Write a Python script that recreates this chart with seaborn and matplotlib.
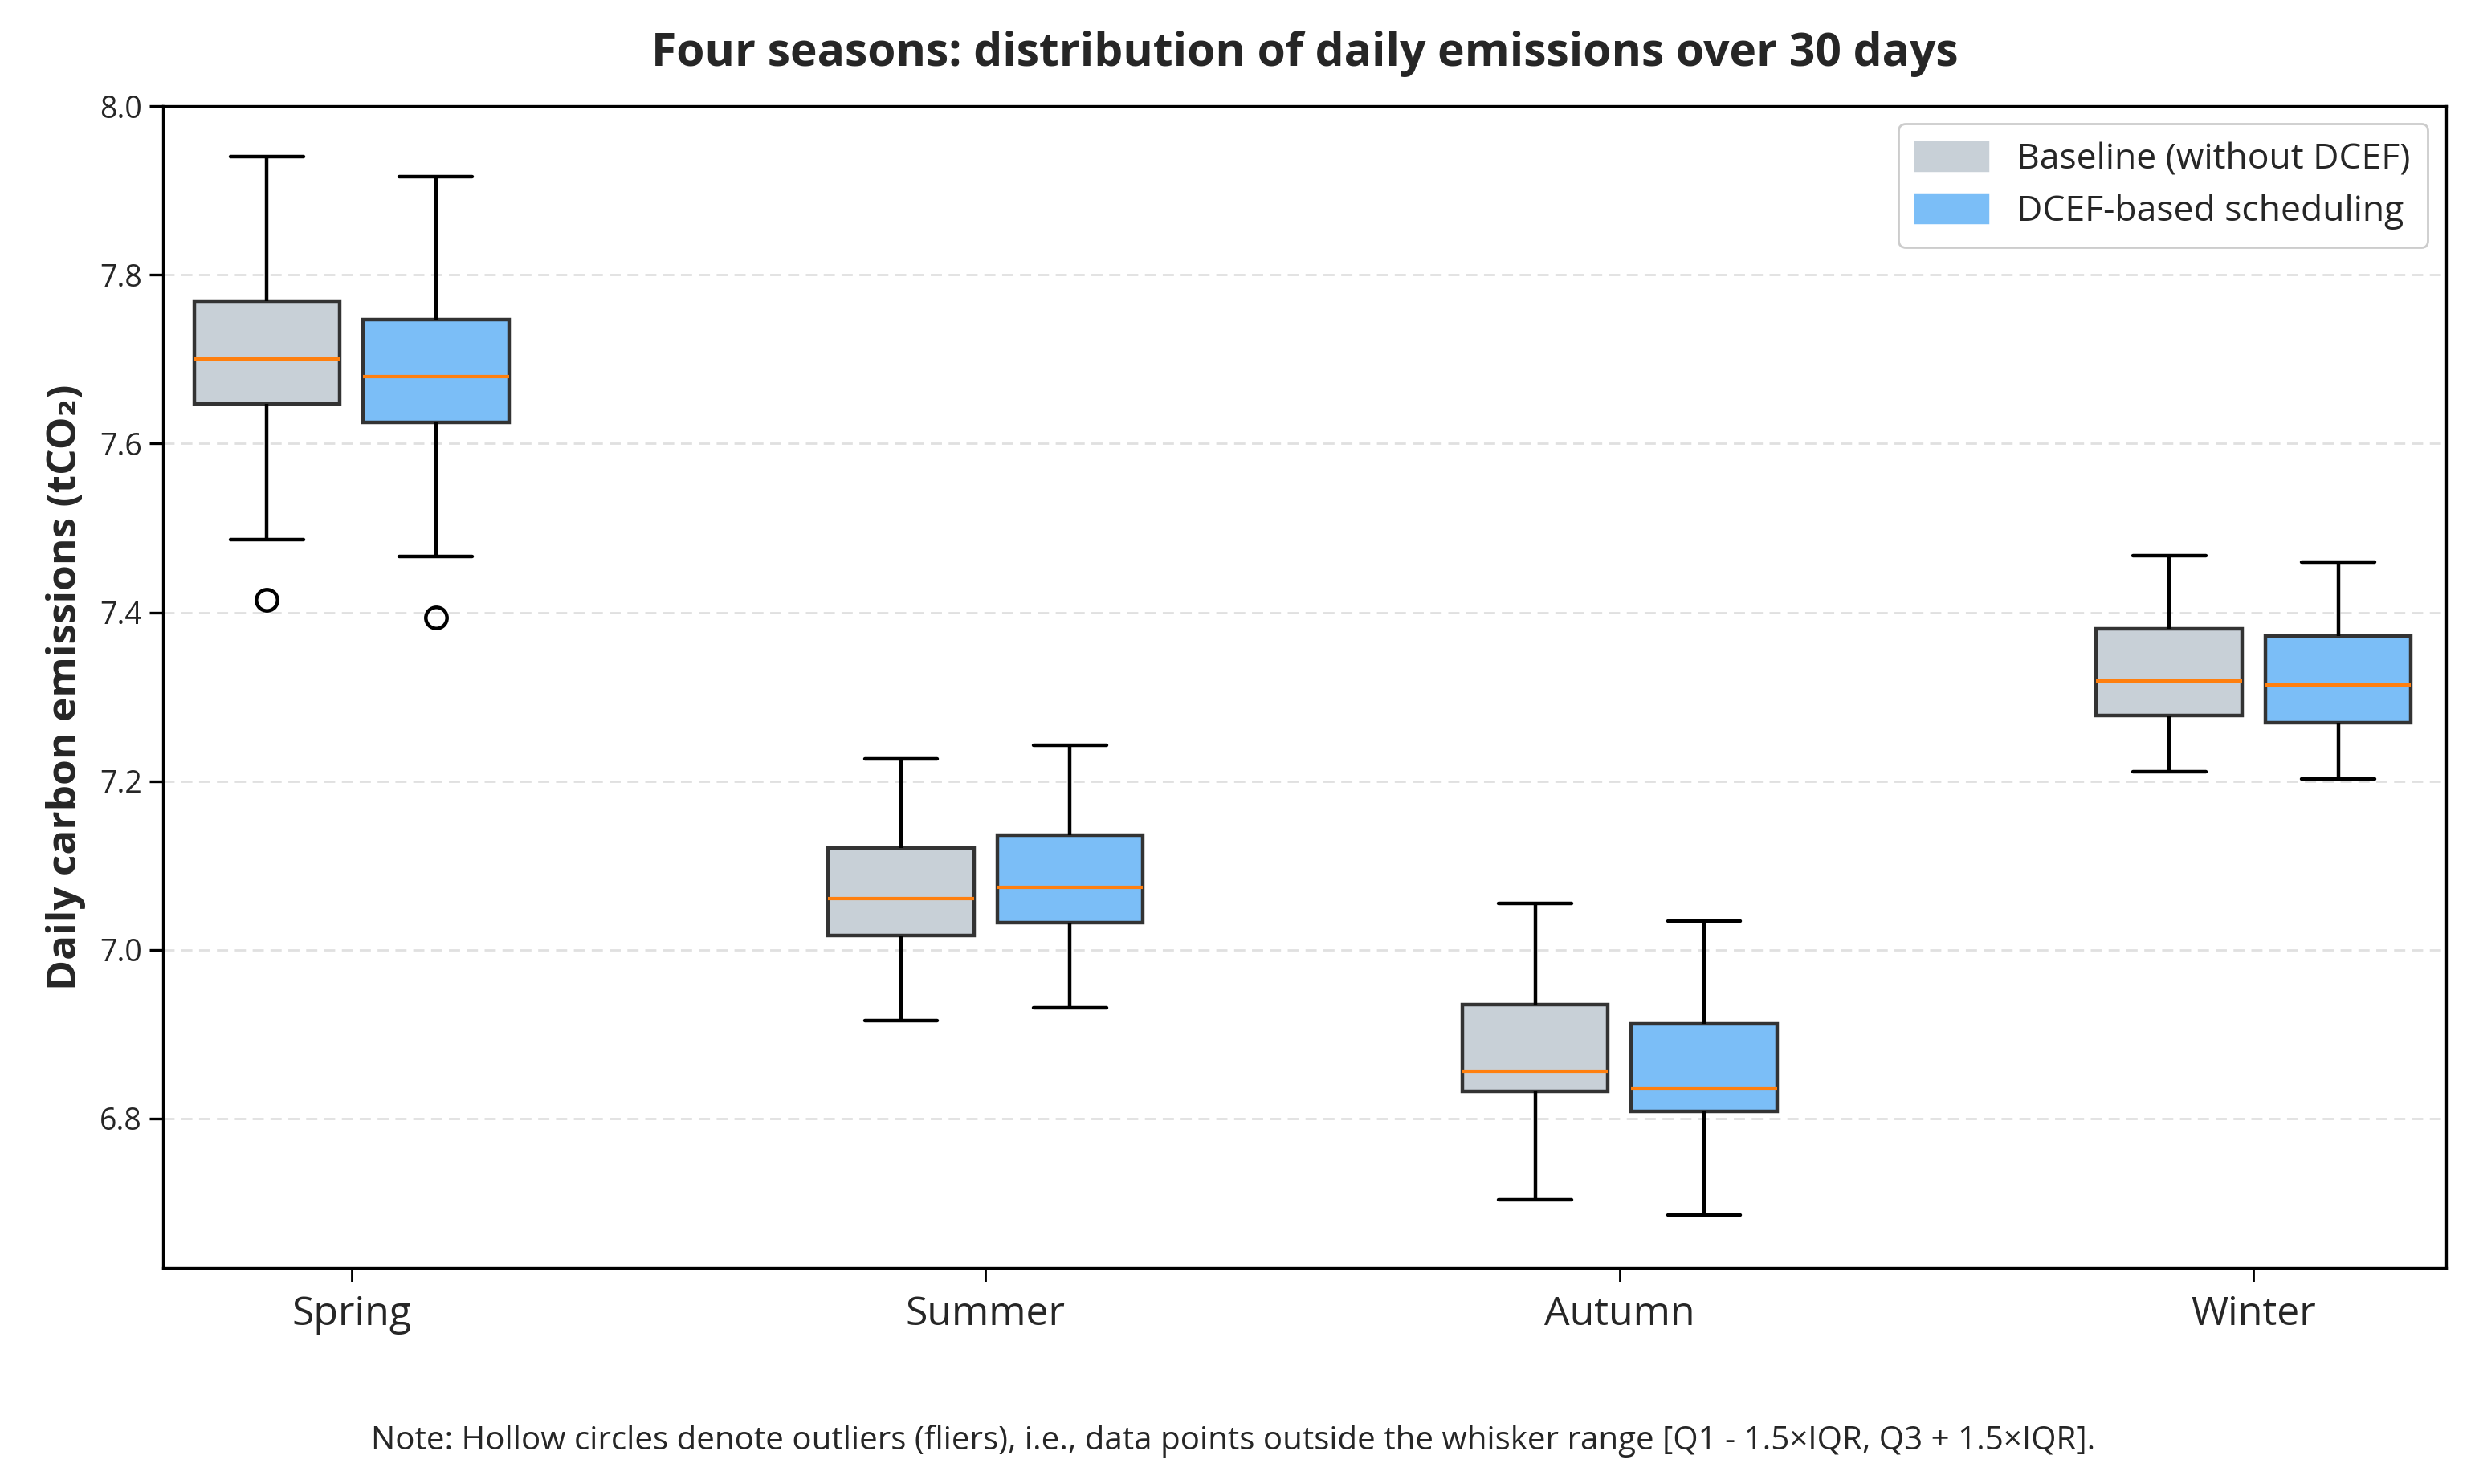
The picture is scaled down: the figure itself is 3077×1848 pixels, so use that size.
import numpy as np
import pandas as pd
import matplotlib
matplotlib.use("Agg")
import matplotlib.pyplot as plt
import seaborn as sns

# ---------------- data ----------------
seasons = ["Spring", "Summer", "Autumn", "Winter"]
methods = ["Baseline (without DCEF)", "DCEF-based scheduling"]

base_lo  = [7.486, 6.916, 6.704, 7.211]
base_q1  = [7.647, 7.017, 6.832, 7.278]
base_med = [7.700, 7.061, 6.856, 7.319]
base_q3  = [7.769, 7.121, 6.935, 7.381]
base_hi  = [7.940, 7.226, 7.055, 7.467]
base_fliers = [[7.415], [], [], []]

dcef_lo  = [7.466, 6.931, 6.686, 7.203]
dcef_q1  = [7.625, 7.032, 6.809, 7.269]
dcef_med = [7.679, 7.074, 6.836, 7.314]
dcef_q3  = [7.747, 7.136, 6.912, 7.372]
dcef_hi  = [7.916, 7.243, 7.034, 7.460]
dcef_fliers = [[7.394], [], [], []]

colors = ["#c8d0d7", "#7bbef7"]


def summary_points(lo, q1, med, q3, hi, fliers):
    """Points whose quartiles / whiskers reproduce the read summary."""
    if fliers:
        return list(fliers) + [lo, q1, med, med, med, q3, hi, hi]
    return [lo, q1, med, q3, hi]


rows = []
for m, (lo, q1, md, q3, hi, fl) in zip(
    methods,
    [(base_lo, base_q1, base_med, base_q3, base_hi, base_fliers),
     (dcef_lo, dcef_q1, dcef_med, dcef_q3, dcef_hi, dcef_fliers)],
):
    for i, s in enumerate(seasons):
        for v in summary_points(lo[i], q1[i], md[i], q3[i], hi[i], fl[i]):
            rows.append({"Season": s, "Method": m, "Emission": v})
df = pd.DataFrame(rows)

# ---------------- style ----------------
sns.set_theme(style="ticks")
plt.rcParams["font.family"] = ["Open Sans", "DejaVu Sans"]

fig = plt.figure(figsize=(15.385, 9.24), dpi=200)
ax = fig.add_axes([0.066, 0.1456, 0.9238, 0.7829])

sns.boxplot(
    data=df, x="Season", y="Emission", hue="Method",
    order=seasons, hue_order=methods, palette=colors, saturation=1,
    width=0.533, gap=0.137, whis=1.5, ax=ax,
    linewidth=1.5, linecolor="#333333",
    boxprops=dict(edgecolor="#333333", linewidth=1.6),
    medianprops=dict(color="#ff7f0e", linewidth=1.5),
    whiskerprops=dict(color="black", linewidth=1.6),
    capprops=dict(color="black", linewidth=1.6),
    flierprops=dict(marker="o", markerfacecolor="none",
                    markeredgecolor="black", markersize=9.5,
                    markeredgewidth=1.6),
)

ax.set_xlim(-0.297, 3.303)
ax.set_ylim(6.623, 8.0)
ax.set_yticks([6.8, 7.0, 7.2, 7.4, 7.6, 7.8, 8.0])
ax.yaxis.grid(True, linestyle=(0, (5, 3)), color="#e0e0e0", linewidth=1.0)
ax.xaxis.grid(False)
ax.set_axisbelow(True)

for sp in ax.spines.values():
    sp.set_visible(True)
    sp.set_color("black")
    sp.set_linewidth(1.2)

ax.tick_params(axis="y", labelsize=13.5, length=6, width=1.2, color="black")
ax.tick_params(axis="x", labelsize=18, length=6, width=1.0, color="black", pad=6)

ax.set_xlabel("")
ax.set_ylabel("Daily carbon emissions (tCO\u2082)", fontsize=18.5,
              fontweight="bold", labelpad=6)
ax.set_title("Four seasons: distribution of daily emissions over 30 days",
             fontsize=20.5, fontweight="bold", pad=18)

leg = ax.legend(loc="upper right", fontsize=16, frameon=True, fancybox=True,
                framealpha=1.0, edgecolor="#cccccc", borderpad=0.5,
                handlelength=2.0, handleheight=0.8, labelspacing=0.45)
for h, c in zip(leg.legend_handles, colors):
    h.set_facecolor(c)
    h.set_edgecolor(c)

fig.text(0.499, 0.029,
         "Note: Hollow circles denote outliers (fliers), i.e., data points outside "
         "the whisker range [Q1 - 1.5\u00d7IQR, Q3 + 1.5\u00d7IQR].",
         ha="center", va="center", fontsize=14.5)

fig.savefig("out.png", dpi=200, facecolor="white")
